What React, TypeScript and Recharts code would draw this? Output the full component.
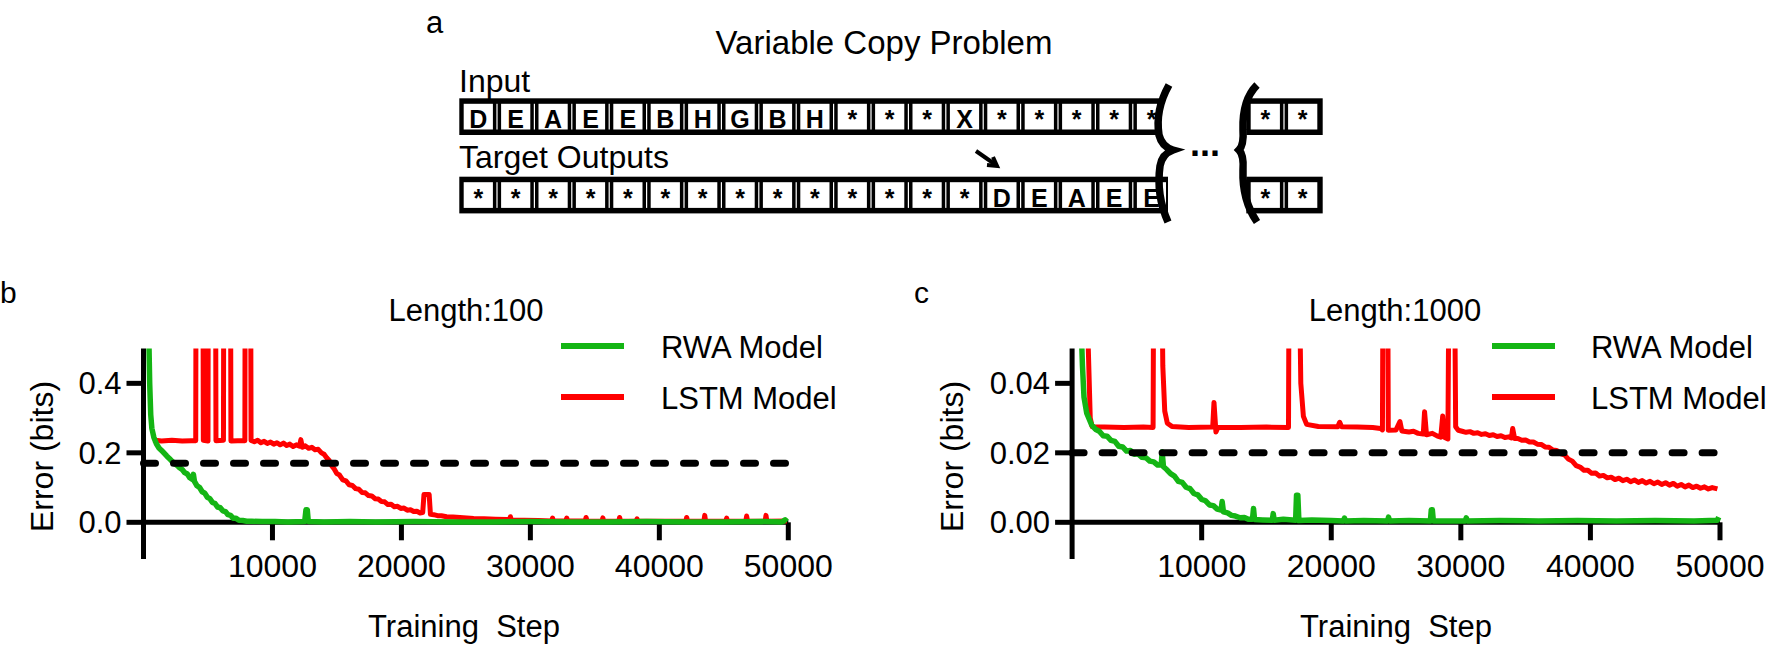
import React from 'react';
import { LineChart, Line, XAxis, YAxis, ReferenceLine } from 'recharts';

const FONT = '"Liberation Sans", Arial, Helvetica, sans-serif';
const GREEN = '#14b514';
const RED = '#ff0000';

// panel a: the copy task
const INPUT_CELLS = ['D', 'E', 'A', 'E', 'E', 'B', 'H', 'G', 'B', 'H', '*', '*', '*', 'X', '*', '*', '*', '*', '*'];
const TARGET_CELLS = ['*', '*', '*', '*', '*', '*', '*', '*', '*', '*', '*', '*', '*', '*', 'D', 'E', 'A', 'E', 'E'];
const TAIL_CELLS = ['*', '*'];

// panels b / c
const STEP_TICKS = [10000, 20000, 30000, 40000, 50000];
const ERR_TICKS_100 = [0, 0.2, 0.4];
const ERR_TICKS_1000 = [0, 0.02, 0.04];
const THRESHOLD_100 = 0.17;
const THRESHOLD_1000 = 0.02;
const SERIES = [
  { name: 'RWA Model', color: GREEN },
  { name: 'LSTM Model', color: RED },
];

// [training step, error in bits]
const RWA_100: [number, number][] = [
  [400, 0.56], [480, 0.4], [560, 0.31], [650, 0.27], [800, 0.245], [1000, 0.226], [1200, 0.214],
  [1400, 0.207], [1600, 0.199], [1800, 0.191], [2000, 0.184], [2200, 0.176], [2400, 0.17], [2600, 0.164],
  [2800, 0.157], [3000, 0.152], [3200, 0.143], [3400, 0.139], [3600, 0.128], [3800, 0.123], [3870, 0.138],
  [3950, 0.118], [4150, 0.105], [4350, 0.1], [4550, 0.088], [4750, 0.084], [4950, 0.072], [5150, 0.068],
  [5350, 0.057], [5550, 0.054], [5750, 0.044], [5950, 0.042], [6150, 0.033], [6350, 0.031], [6550, 0.022],
  [6750, 0.02], [6950, 0.012], [7150, 0.012], [7400, 0.006], [7700, 0.005], [8000, 0.003], [8400, 0.003],
  [9200, 0.002], [10200, 0.002], [11200, 0.001], [12500, 0.002], [12600, 0.036], [12700, 0.036],
  [12780, 0.002], [14000, 0.001], [16000, 0.002], [18000, 0.001], [21000, 0.002], [24000, 0.001],
  [27000, 0.001], [30000, 0.002], [33000, 0.001], [36000, 0.001], [39000, 0.002], [42000, 0.001],
  [45000, 0.001], [48000, 0.002], [49500, 0.001], [49750, 0.007], [49900, 0.002],
];

const LSTM_100: [number, number][] = [
  [750, 0.237], [1400, 0.234], [2200, 0.236], [3000, 0.234], [3700, 0.235], [4050, 0.235], [4080, 0.9],
  [4600, 0.9], [4640, 0.236], [5000, 0.234], [5030, 0.9], [5580, 0.9], [5620, 0.235], [6200, 0.236],
  [6230, 0.9], [6740, 0.9], [6780, 0.234], [7300, 0.235], [7860, 0.235], [7890, 0.9], [8300, 0.9],
  [8340, 0.236], [8600, 0.232], [8850, 0.236], [9100, 0.229], [9350, 0.233], [9600, 0.227], [9850, 0.231],
  [10100, 0.225], [10350, 0.229], [10600, 0.223], [10850, 0.228], [11100, 0.221], [11350, 0.225],
  [11600, 0.218], [11850, 0.223], [12100, 0.219], [12200, 0.238], [12320, 0.216], [12550, 0.22],
  [12800, 0.213], [13050, 0.216], [13300, 0.209], [13550, 0.21], [13800, 0.2], [14000, 0.196],
  [14200, 0.186], [14400, 0.178], [14600, 0.162], [14800, 0.153], [15000, 0.14], [15200, 0.136],
  [15450, 0.122], [15700, 0.119], [15950, 0.108], [16200, 0.106], [16450, 0.097], [16700, 0.095],
  [16950, 0.086], [17200, 0.085], [17450, 0.077], [17700, 0.076], [17950, 0.068], [18200, 0.067],
  [18450, 0.06], [18700, 0.059], [18950, 0.051], [19200, 0.052], [19450, 0.045], [19700, 0.046],
  [19950, 0.04], [20200, 0.041], [20450, 0.035], [20700, 0.036], [20950, 0.031], [21200, 0.032],
  [21450, 0.027], [21650, 0.028], [21750, 0.08], [22150, 0.08], [22250, 0.023], [22500, 0.022],
  [22800, 0.019], [23100, 0.019], [23500, 0.016], [24000, 0.015], [24800, 0.013], [25600, 0.011],
  [26400, 0.01], [27300, 0.009], [28200, 0.008], [28380, 0.007], [28450, 0.016], [28520, 0.007],
  [29500, 0.006], [30600, 0.005], [31650, 0.004], [31720, 0.012], [31790, 0.004], [32750, 0.004],
  [32820, 0.012], [32890, 0.004], [34250, 0.004], [34320, 0.014], [34390, 0.004], [35550, 0.003],
  [35620, 0.013], [35690, 0.003], [36850, 0.003], [36920, 0.014], [36990, 0.003], [38200, 0.003],
  [38270, 0.01], [38340, 0.003], [40000, 0.003], [42050, 0.003], [42120, 0.014], [42190, 0.003],
  [43450, 0.003], [43520, 0.02], [43590, 0.003], [45150, 0.003], [45220, 0.012], [45290, 0.003],
  [46700, 0.003], [46770, 0.018], [46840, 0.003], [48200, 0.003], [48270, 0.02], [48340, 0.003],
  [49900, 0.004],
];

const RWA_1000: [number, number][] = [
  [700, 0.056], [800, 0.045], [920, 0.036], [1130, 0.0314], [1510, 0.028], [1800, 0.0268], [2100, 0.0262],
  [2400, 0.0249], [2700, 0.0248], [3000, 0.0236], [3300, 0.0233], [3600, 0.0219], [3900, 0.0217],
  [4200, 0.0205], [4500, 0.0207], [4800, 0.0196], [5100, 0.0197], [5400, 0.0187], [5700, 0.0186],
  [6000, 0.0176], [6300, 0.0174], [6600, 0.0165], [6880, 0.0165], [6950, 0.0203], [7050, 0.016],
  [7300, 0.0152], [7600, 0.014], [7900, 0.0133], [8200, 0.0118], [8500, 0.0115], [8800, 0.0101],
  [9100, 0.0097], [9400, 0.0083], [9700, 0.0079], [10000, 0.0066], [10300, 0.0062], [10600, 0.005],
  [10900, 0.0048], [11200, 0.0038], [11500, 0.0035], [11580, 0.006], [11680, 0.003], [12000, 0.0027],
  [12300, 0.002], [12600, 0.0018], [12960, 0.0013], [13300, 0.0014], [13600, 0.0009], [13920, 0.0009],
  [14000, 0.004], [14080, 0.0008], [14700, 0.0007], [15450, 0.0006], [15520, 0.0025], [15600, 0.0006],
  [16300, 0.0009], [17250, 0.0006], [17320, 0.0078], [17420, 0.0078], [17500, 0.0005], [18500, 0.0007],
  [20000, 0.0005], [20950, 0.0004], [21020, 0.0012], [21100, 0.0004], [22500, 0.0005], [24350, 0.0004],
  [24420, 0.0015], [24500, 0.0004], [26000, 0.0005], [27650, 0.0004], [27720, 0.0036], [27800, 0.0036],
  [27880, 0.0004], [30350, 0.0004], [30420, 0.0013], [30500, 0.0004], [33000, 0.0005], [36000, 0.0004],
  [39000, 0.0005], [42000, 0.0004], [45000, 0.0005], [48000, 0.0004], [49800, 0.0006], [49900, 0.0015],
];

const LSTM_1000: [number, number][] = [
  [1100, 0.07], [1400, 0.03], [1550, 0.0275], [2500, 0.0274], [4000, 0.0273], [5500, 0.0274],
  [6250, 0.0273], [6300, 0.08], [6900, 0.08], [7000, 0.045], [7150, 0.032], [7350, 0.0285],
  [7700, 0.0276], [9000, 0.0273], [10850, 0.0274], [10950, 0.0345], [11100, 0.026], [11250, 0.0273],
  [13000, 0.0273], [15000, 0.0274], [16700, 0.0273], [16750, 0.08], [17500, 0.08], [17650, 0.04],
  [17850, 0.0305], [18100, 0.0282], [19000, 0.0276], [20500, 0.0275], [20650, 0.0288], [20800, 0.0275],
  [22000, 0.0274], [23200, 0.0273], [23800, 0.027], [23950, 0.0266], [24000, 0.08], [24350, 0.08],
  [24400, 0.0265], [25000, 0.0266], [25300, 0.029], [25450, 0.0263], [26000, 0.026], [26350, 0.0262],
  [26700, 0.0256], [27100, 0.0254], [27200, 0.0318], [27350, 0.0252], [27800, 0.0256], [28200, 0.0248],
  [28450, 0.0245], [28600, 0.0306], [28750, 0.0244], [29000, 0.024], [29100, 0.08], [29500, 0.08],
  [29600, 0.0275], [29800, 0.0265], [30100, 0.0262], [30400, 0.0259], [30700, 0.0261], [31000, 0.0256],
  [31300, 0.0258], [31600, 0.0253], [31900, 0.0255], [32200, 0.025], [32500, 0.0252], [32800, 0.0247],
  [33100, 0.0249], [33400, 0.0244], [33700, 0.0246], [33900, 0.0243], [34000, 0.027], [34150, 0.0241],
  [34400, 0.0241], [34700, 0.0236], [35000, 0.0237], [35300, 0.0231], [35600, 0.0231], [35900, 0.0225],
  [36200, 0.0224], [36500, 0.0217], [36800, 0.0216], [37100, 0.0208], [37400, 0.0207], [37700, 0.0198],
  [38000, 0.0194], [38300, 0.0182], [38600, 0.0176], [38900, 0.0163], [39200, 0.0159], [39500, 0.015],
  [39800, 0.015], [40100, 0.0141], [40400, 0.0142], [40700, 0.0133], [41000, 0.0135], [41300, 0.0128],
  [41600, 0.013], [41900, 0.0123], [42200, 0.0127], [42500, 0.012], [42800, 0.0124], [43100, 0.0117],
  [43400, 0.0122], [43700, 0.0115], [44000, 0.012], [44300, 0.0113], [44600, 0.0118], [44900, 0.0111],
  [45200, 0.0116], [45500, 0.0109], [45800, 0.0114], [46100, 0.0107], [46400, 0.0112], [46700, 0.0104],
  [47000, 0.0109], [47300, 0.0102], [47600, 0.0107], [47900, 0.01], [48200, 0.0104], [48500, 0.0098],
  [48800, 0.0102], [49100, 0.0096], [49400, 0.01], [49800, 0.0096],
];

const toRows = (pts: [number, number][]) => pts.map(([step, err]) => ({ step, err }));

const StepTick = (props: any) => (
  <text x={props.x} y={props.y + 18} textAnchor="middle" fontSize={32} fontFamily={FONT} fill="#000">
    {props.payload.value}
  </text>
);

type PanelProps = {
  left: number;
  width: number;
  yAxisWidth: number;
  marginRight: number;
  rwa: [number, number][];
  lstm: [number, number][];
  yMin: number;
  yMax: number;
  ticks: number[];
  digits: number;
  threshold: number;
};

function ErrorPanel(p: PanelProps) {
  const tickDepth = (p.yMax - p.yMin) * 0.0855;
  return (
    <div style={{ position: 'absolute', left: p.left, top: 300 }}>
      <LineChart width={p.width} height={349} margin={{ top: 48.6, right: p.marginRight, bottom: 50, left: 0 }}>
        <ReferenceLine y={0} stroke="#000" strokeWidth={5} />
        {STEP_TICKS.map((t) => (
          <ReferenceLine key={t} segment={[{ x: t, y: 0 }, { x: t, y: -tickDepth }]} stroke="#000" strokeWidth={5} />
        ))}
        <XAxis
          type="number"
          dataKey="step"
          domain={[0, 50000]}
          ticks={STEP_TICKS}
          interval={0}
          axisLine={false}
          tickLine={false}
          tickSize={0}
          tickMargin={0}
          height={40}
          tick={StepTick}
        />
        <YAxis
          type="number"
          domain={[p.yMin, p.yMax]}
          allowDataOverflow
          ticks={p.ticks}
          interval={0}
          width={p.yAxisWidth}
          tickSize={17}
          tickMargin={5}
          axisLine={{ stroke: '#000', strokeWidth: 5 }}
          tickLine={{ stroke: '#000', strokeWidth: 5 }}
          tick={{ fill: '#000', fontSize: 31, fontFamily: FONT }}
          tickFormatter={(v: number) => v.toFixed(p.digits)}
        />
        <Line data={toRows(p.lstm)} dataKey="err" name="LSTM Model" type="linear" stroke={RED} strokeWidth={5}
          strokeLinejoin="round" dot={false} activeDot={false} isAnimationActive={false} />
        <Line data={toRows(p.rwa)} dataKey="err" name="RWA Model" type="linear" stroke={GREEN} strokeWidth={5.5}
          strokeLinejoin="round" dot={false} activeDot={false} isAnimationActive={false} />
        <ReferenceLine y={p.threshold} stroke="#000" strokeWidth={7} strokeDasharray="12 18" strokeLinecap="round" />
      </LineChart>
    </div>
  );
}

const PITCH = 37.4;

function CellRow({ x0, top, cells, right }: { x0: number; top: number; cells: string[]; right: number }) {
  const h = 36.7;
  const left = x0 - 19;
  return (
    <g>
      <rect x={left} y={top} width={right - left} height={h} fill="#000" />
      {cells.map((c, i) => {
        const cx = x0 + i * PITCH;
        const l = cx - 14.6;
        const w = Math.min(29.2, right - 2 - l);
        return (
          <g key={i}>
            <rect x={l} y={top + 5.5} width={w} height={h - 11} fill="#fff" />
            {i > 0 && <rect x={cx - PITCH / 2 - 0.6} y={top + 5.5} width={1.2} height={h - 11} fill="#fff" />}
            <text x={cx} y={top + 30} textAnchor="middle" fontSize={25} fontWeight="bold" fontFamily={FONT} fill="#000">
              {c}
            </text>
          </g>
        );
      })}
    </g>
  );
}

function Legend({ x, textX }: { x: number; textX: number }) {
  return (
    <g>
      {SERIES.map((s, i) => (
        <g key={s.name}>
          <line x1={x} x2={x + 63} y1={346 + i * 51} y2={346 + i * 51} stroke={s.color} strokeWidth={6} />
          <text x={textX} y={358 + i * 51} fontSize={31} fontFamily={FONT} fill="#000">{s.name}</text>
        </g>
      ))}
    </g>
  );
}

function Overlay() {
  const t = { fontFamily: FONT, fill: '#000' };
  return (
    <svg width={1772} height={649} style={{ position: 'absolute', left: 0, top: 0, pointerEvents: 'none' }}>
      {/* panel a */}
      <text x={426} y={33} fontSize={31} {...t}>a</text>
      <text x={884} y={54} fontSize={33} textAnchor="middle" {...t}>Variable Copy Problem</text>
      <text x={459} y={92} fontSize={32} {...t}>Input</text>
      <text x={459} y={168} fontSize={32} {...t}>Target Outputs</text>
      <CellRow x0={478.3} top={98.3} cells={INPUT_CELLS} right={1159} />
      <CellRow x0={478.3} top={176.7} cells={TARGET_CELLS} right={1168} />
      <CellRow x0={1265.3} top={98.3} cells={TAIL_CELLS} right={1322.7} />
      <CellRow x0={1265.3} top={176.7} cells={TAIL_CELLS} right={1322.7} />
      <path d="M1169 85 Q1155 110 1159 135 Q1162 147 1173 150 Q1162 154 1160 166 Q1156 195 1168 222"
        stroke="#000" strokeWidth={7.5} fill="none" />
      <path d="M1257 85 Q1242 100 1243 130 Q1244 145 1239 150 Q1244 155 1243 170 Q1242 200 1257 222"
        stroke="#000" strokeWidth={7.5} fill="none" />
      <text x={1190} y={156} fontSize={36} fontWeight="bold" {...t}>...</text>
      <line x1={976} y1={151} x2={996} y2={165} stroke="#000" strokeWidth={4} />
      <polyline points="993,157 997,166 987,165" stroke="#000" strokeWidth={4} fill="none" />

      {/* panel b */}
      <text x={0} y={303} fontSize={30} {...t}>b</text>
      <text x={466} y={321} fontSize={31} textAnchor="middle" {...t}>Length:100</text>
      <Legend x={561} textX={661} />
      <text x={464} y={637} fontSize={31} textAnchor="middle" {...t}>{'Training \u00a0Step'}</text>
      <text transform="translate(53 456.5) rotate(-90)" fontSize={32} textAnchor="middle" {...t}>Error (bits)</text>

      {/* panel c */}
      <text x={914} y={303} fontSize={30} {...t}>c</text>
      <text x={1395} y={321} fontSize={31} textAnchor="middle" {...t}>Length:1000</text>
      <Legend x={1492} textX={1591} />
      <text x={1396} y={637} fontSize={31} textAnchor="middle" {...t}>{'Training \u00a0Step'}</text>
      <text transform="translate(963 456.5) rotate(-90)" fontSize={32} textAnchor="middle" {...t}>Error (bits)</text>
    </svg>
  );
}

export default function App() {
  return (
    <div style={{ position: 'absolute', left: 0, top: 0, width: 1772, height: 649, background: '#fff', overflow: 'hidden' }}>
      <ErrorPanel left={0} width={880} yAxisWidth={143.5} marginRight={91.7} rwa={RWA_100} lstm={LSTM_100}
        yMin={-0.1056} yMax={0.5} ticks={ERR_TICKS_100} digits={1} threshold={THRESHOLD_100} />
      <ErrorPanel left={880} width={892} yAxisWidth={192.1} marginRight={52} rwa={RWA_1000} lstm={LSTM_1000}
        yMin={-0.01056} yMax={0.05} ticks={ERR_TICKS_1000} digits={2} threshold={THRESHOLD_1000} />
      <Overlay />
    </div>
  );
}
